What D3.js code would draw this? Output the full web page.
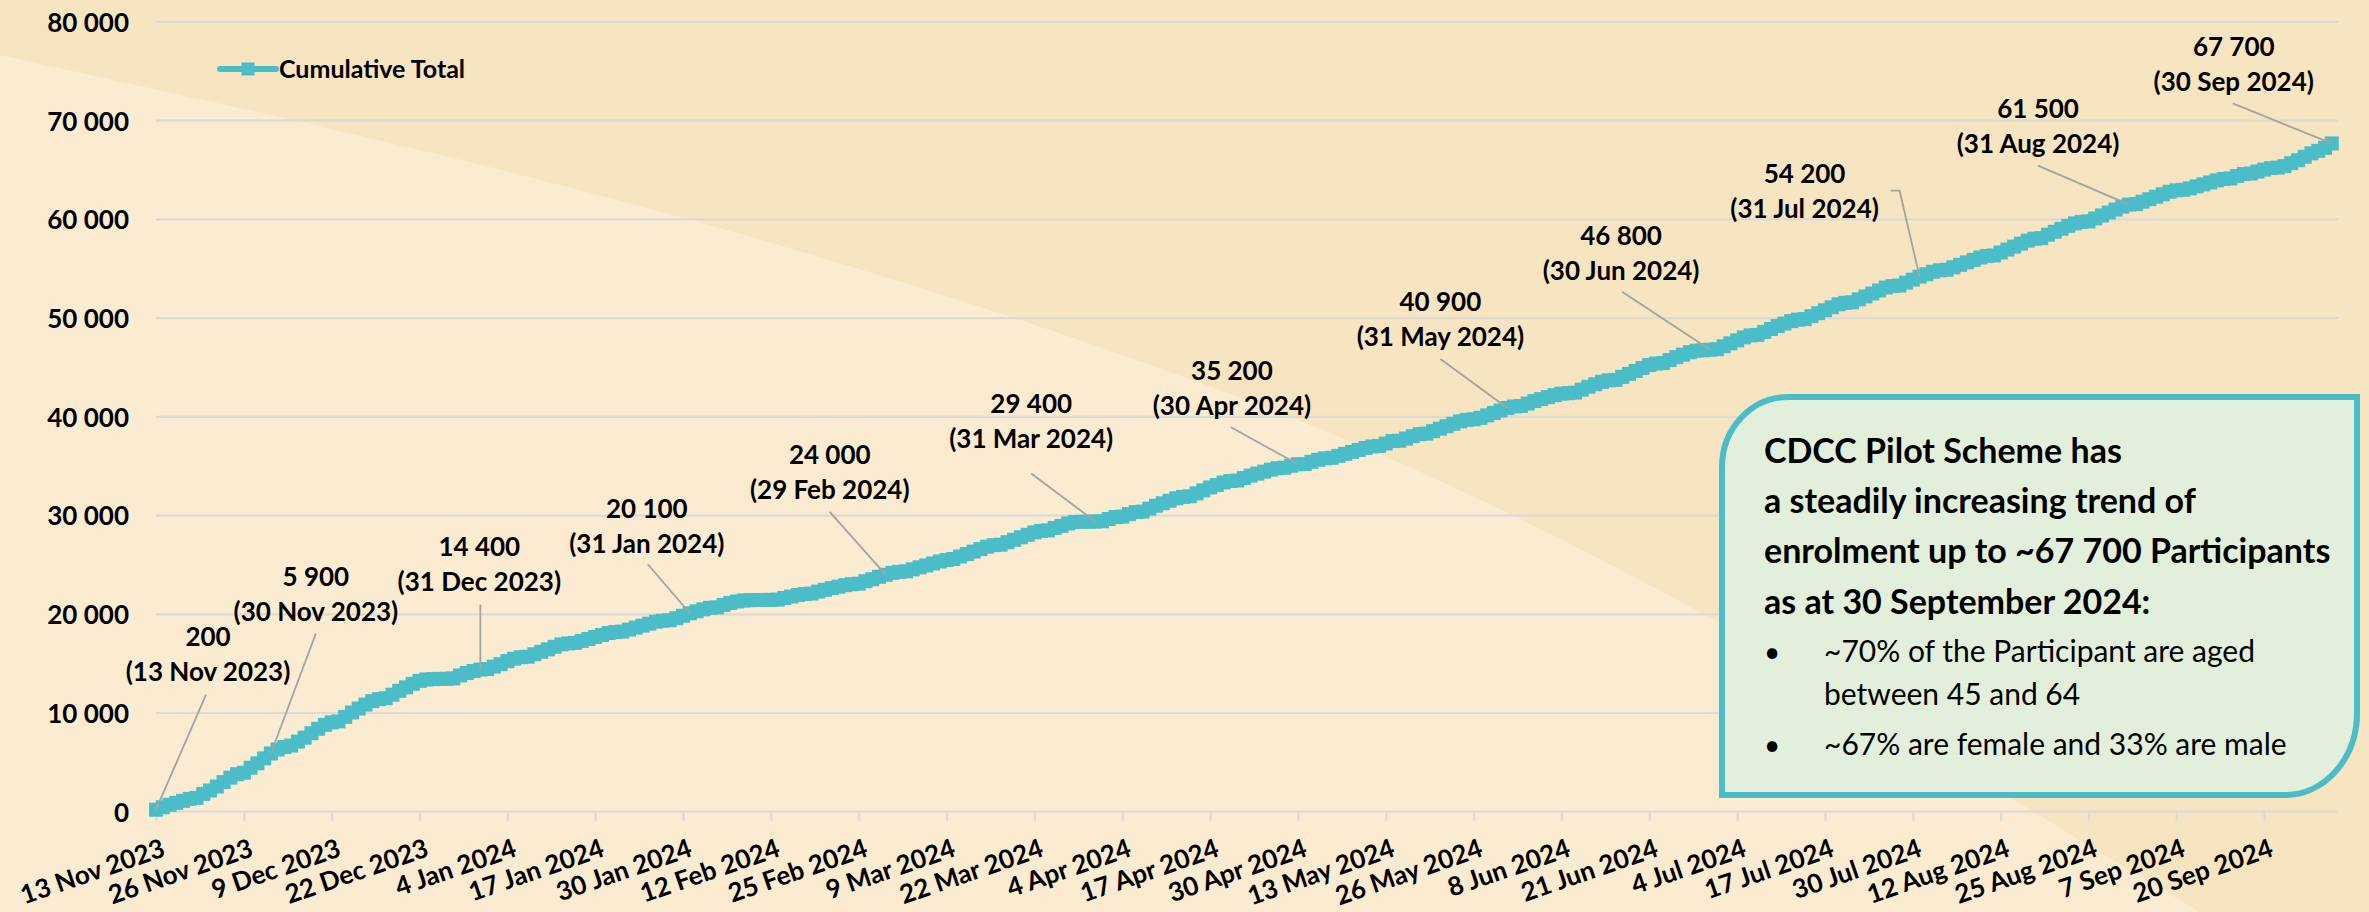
<!DOCTYPE html>
<html>
<head>
<meta charset="utf-8">
<script src="https://cdn.jsdelivr.net/npm/d3@7"></script>
<style>
    html, body { margin: 0; padding: 0; background: #f9ebd0; overflow: hidden; }
    svg { display: block; font-family: Lato, 'Open Sans', sans-serif; }
</style>
</head>
<body>
<div id="chart"></div>
<script>
////////////////////////////////////////////////////////
// chart data
////////////////////////////////////////////////////////
const startDate = '13 Nov 2023';

// cumulative enrolment, one value per day from 13 Nov 2023 to 30 Sep 2024
const cumulativeTotal = [
    200, 450, 700, 900, 1100, 1300, 1400, 1800, 2150, 2550,
    3000, 3450, 3800, 3950, 4450, 4900, 5400, 5900, 6300, 6550,
    6700, 7100, 7500, 7950, 8400, 8800, 9050, 9150, 9600, 10050,
    10450, 10850, 11200, 11400, 11500, 11850, 12250, 12600, 12950, 13250,
    13400, 13430, 13450, 13470, 13500, 13800, 14050, 14250, 14400, 14450,
    14700, 14950, 15250, 15500, 15650, 15700, 15950, 16200, 16450, 16700,
    16950, 17050, 17100, 17300, 17500, 17700, 17900, 18100, 18200, 18250,
    18450, 18650, 18850, 19050, 19250, 19350, 19400, 19600, 19850, 20100,
    20300, 20500, 20650, 20700, 20950, 21150, 21300, 21400, 21430, 21450,
    21450, 21460, 21480, 21650, 21800, 21950, 22050, 22100, 22300, 22480,
    22650, 22800, 22950, 23050, 23100, 23350, 23550, 23800, 24000, 24200,
    24300, 24350, 24550, 24750, 24950, 25150, 25350, 25500, 25600, 25850,
    26100, 26350, 26600, 26850, 27000, 27050, 27300, 27550, 27800, 28050,
    28300, 28450, 28500, 28750, 28950, 29200, 29350, 29370, 29380, 29400,
    29420, 29650, 29850, 29900, 30150, 30350, 30400, 30700, 31000, 31250,
    31500, 31750, 31900, 31950, 32250, 32550, 32850, 33100, 33350, 33500,
    33550, 33800, 34050, 34250, 34450, 34650, 34800, 34850, 35050, 35200,
    35220, 35450, 35650, 35800, 35850, 36050, 36250, 36450, 36650, 36850,
    37000, 37050, 37300, 37550, 37580, 37800, 38050, 38250, 38300, 38550,
    38800, 39050, 39300, 39550, 39700, 39750, 39900, 40150, 40400, 40650,
    40900, 41050, 41100, 41350, 41600, 41800, 42000, 42200, 42350, 42400,
    42450, 42750, 43050, 43300, 43550, 43700, 43750, 44050, 44350, 44650,
    44950, 45250, 45400, 45450, 45750, 46050, 46300, 46550, 46700, 46750,
    46800, 46850, 47150, 47450, 47750, 48050, 48250, 48300, 48600, 48900,
    49200, 49450, 49700, 49850, 49900, 50200, 50500, 50800, 51100, 51400,
    51550, 51600, 51900, 52200, 52500, 52800, 53100, 53250, 53300, 53600,
    53900, 54200, 54450, 54700, 54850, 54900, 55150, 55400, 55650, 55900,
    56150, 56300, 56350, 56650, 56950, 57250, 57550, 57850, 58050, 58100,
    58450, 58750, 59050, 59350, 59600, 59750, 59800, 60100, 60400, 60700,
    61000, 61300, 61500, 61550, 61800, 62050, 62300, 62550, 62800, 62950,
    63000, 63150, 63350, 63550, 63750, 63950, 64100, 64150, 64400, 64600,
    64650, 64850, 65050, 65200, 65250, 65400, 65700, 66000, 66350, 66700,
    66950, 67250, 67700
];

const xTickLabels = [
    '13 Nov 2023', '26 Nov 2023', '9 Dec 2023', '22 Dec 2023', '4 Jan 2024',
    '17 Jan 2024', '30 Jan 2024', '12 Feb 2024', '25 Feb 2024', '9 Mar 2024',
    '22 Mar 2024', '4 Apr 2024', '17 Apr 2024', '30 Apr 2024', '13 May 2024',
    '26 May 2024', '8 Jun 2024', '21 Jun 2024', '4 Jul 2024', '17 Jul 2024',
    '30 Jul 2024', '12 Aug 2024', '25 Aug 2024', '7 Sep 2024', '20 Sep 2024'
];
const yTickValues = [0, 10000, 20000, 30000, 40000, 50000, 60000, 70000, 80000];

const calloutDates = [
    '13 Nov 2023', '30 Nov 2023', '31 Dec 2023', '31 Jan 2024', '29 Feb 2024', '31 Mar 2024',
    '30 Apr 2024', '31 May 2024', '30 Jun 2024', '31 Jul 2024', '31 Aug 2024', '30 Sep 2024'
];
const calloutValues = [200, 5900, 14400, 20100, 24000, 29400, 35200, 40900, 46800, 54200, 61500, 67700];

const seriesName = 'Cumulative Total';

const noteHeading = [
    'CDCC Pilot Scheme has',
    'a steadily increasing trend of',
    'enrolment up to ~67 700 Participants',
    'as at 30 September 2024:'
];
const noteBullets = [
    ['~70% of the Participant are aged', 'between 45 and 64'],
    ['~67% are female and 33% are male']
];

// where each callout sits, relative to the point it marks (px)
const calloutOffsets = [
    {dx: 52, dy: -173, lx: 50, ly: -115},
    {dx: 45, dy: -177, lx: 45, ly: -120},
    {dx: -1, dy: -123, lx: 0, ly: -65},
    {dx: -43, dy: -105, lx: -42, ly: -49},
    {dx: -56, dy: -120, lx: -56, ly: -63},
    {dx: -64, dy: -118, lx: -64, ly: -48},
    {dx: -66, dy: -94, lx: -67, ly: -37},
    {dx: -67, dy: -106, lx: -67, ly: -49},
    {dx: -89, dy: -114, lx: -88, ly: -58},
    {dx: -115, dy: -103, lx: -20, ly: -86, elbow: -29},
    {dx: -91, dy: -96, lx: -91, ly: -39},
    {dx: -98, dy: -97, lx: -99, ly: -40}
];

////////////////////////////////////////////////////////
// drawing
////////////////////////////////////////////////////////
const width = 2369;
const height = 912;
const teal = '#4bbdc8';
const gridColor = '#dcdad6';

const parseDate = d3.timeParse('%d %b %Y');
const formatDate = d3.timeFormat('%-d %b %Y');
const fmt = d3.formatLocale({decimal: '.', thousands: ' ', grouping: [3], currency: ['', '']}).format(',');

const start = parseDate(startDate);
const data = cumulativeTotal.map((v, i) => ({date: d3.timeDay.offset(start, i), value: v}));

const x = d3.scaleTime()
            .domain([start, d3.timeDay.offset(start, 323)])
            .range([156, 2338.5]);
const y = d3.scaleLinear()
            .domain([0, 80000])
            .range([811.7, 22]);

const svg = d3.select('#chart')
    .append('svg')
        .attr('width', width)
        .attr('height', height);

// background: pale wedge over a warmer tan
svg.append('rect')
    .attr('width', width)
    .attr('height', height)
    .attr('fill', '#f7e4c1');

const edge = [[0, 55], [816, 256], [1050, 330], [1405, 465], [1707, 616], [2085, 843], [2200, 912]];
const edgeLine = d3.line().curve(d3.curveMonotoneX);
svg.append('path')
    .attr('d', edgeLine(edge) + 'L0,912Z')
    .attr('fill', '#faebd1');

// gridlines
svg.append('g')
    .selectAll('line')
    .data(yTickValues)
    .enter().append('line')
        .attr('x1', x.range()[0])
        .attr('x2', x.range()[1])
        .attr('y1', d => y(d))
        .attr('y2', d => y(d))
        .attr('stroke', gridColor)
        .attr('stroke-width', 2.2);

// y axis labels
const yAxis = svg.append('g')
    .attr('transform', 'translate(129,0)')
    .call(d3.axisLeft(y).tickValues(yTickValues).tickFormat(fmt).tickSize(0).tickPadding(0));
yAxis.select('.domain').remove();
yAxis.selectAll('text')
    .attr('dy', '0.36em')
    .style('font-size', '26px')
    .style('font-weight', 'bold')
    .style('font-family', 'Lato, sans-serif')
    .style('fill', '#000');

// x axis ticks + rotated labels
const tickDates = xTickLabels.map(parseDate);
const xAxis = svg.append('g')
    .attr('transform', 'translate(0,' + y(0) + ')')
    .call(d3.axisBottom(x).tickValues(tickDates).tickSize(9).tickFormat((d, i) => xTickLabels[i]));
xAxis.select('.domain').remove();
xAxis.selectAll('.tick line')
    .attr('stroke', gridColor)
    .attr('stroke-width', 2.2);
xAxis.selectAll('text')
    .attr('text-anchor', 'end')
    .attr('x', 0)
    .attr('y', 0)
    .attr('dy', '0.36em')
    .attr('transform', 'translate(7,35) rotate(-19)')
    .style('font-size', '26px')
    .style('font-weight', 'bold')
    .style('font-family', 'Lato, sans-serif')
    .style('fill', '#000');

// series: line with a square marker per day
const line = d3.line()
    .x(d => x(d.date))
    .y(d => y(d.value));

svg.append('path')
    .datum(data)
    .attr('d', line)
    .attr('fill', 'none')
    .attr('stroke', teal)
    .attr('stroke-width', 6);

const m = 14;
svg.append('g')
    .selectAll('rect')
    .data(data)
    .enter().append('rect')
        .attr('x', d => x(d.date) - m / 2)
        .attr('y', d => y(d.value) - m / 2)
        .attr('width', m)
        .attr('height', m)
        .attr('fill', teal);

// callouts
const callouts = calloutDates.map((d, i) => ({date: parseDate(d), value: calloutValues[i], off: calloutOffsets[i]}));

const leaders = svg.append('g')
    .attr('fill', 'none')
    .attr('stroke', '#a3a3a3')
    .attr('stroke-width', 1.8);

callouts.forEach(c => {
    const px = x(c.date), py = y(c.value);
    const pts = [[px + c.off.lx, py + c.off.ly], [px, py]];
    if (c.off.elbow !== undefined) pts.unshift([px + c.off.elbow, py + c.off.ly]);
    leaders.append('path').attr('d', d3.line()(pts));

    const g = svg.append('g')
        .attr('text-anchor', 'middle')
        .style('font-size', '26px')
        .style('font-weight', 'bold')
        .style('fill', '#000');
    g.append('text')
        .attr('x', px + c.off.dx)
        .attr('y', py + c.off.dy)
        .attr('dy', '0.36em')
        .text(fmt(c.value));
    g.append('text')
        .attr('x', px + c.off.dx)
        .attr('y', py + c.off.dy + 35)
        .attr('dy', '0.36em')
        .text('(' + formatDate(c.date) + ')');
});

// legend
const legend = svg.append('g').attr('transform', 'translate(220,69)');
legend.append('line')
    .attr('x1', 0).attr('x2', 56)
    .attr('stroke', teal)
    .attr('stroke-width', 6)
    .attr('stroke-linecap', 'round');
legend.append('rect')
    .attr('x', 21.5).attr('y', -6.5)
    .attr('width', 13).attr('height', 13)
    .attr('fill', teal);
legend.append('text')
    .attr('x', 59)
    .attr('dy', '0.36em')
    .style('font-size', '25px')
    .style('font-weight', 'bold')
    .text(seriesName);

// note box
const bx0 = 1722, by0 = 397, bx1 = 2357, by1 = 795;
const note = svg.append('g');
note.append('path')
    .attr('d', `M${bx0},${by0 + 70} A66,70 0 0 1 ${bx0 + 66},${by0} L${bx1},${by0} L${bx1},${by1 - 82}` +
               ` A72,82 0 0 1 ${bx1 - 72},${by1} L${bx0},${by1} Z`)
    .attr('fill', '#e2efda')
    .attr('stroke', teal)
    .attr('stroke-width', 6);

note.selectAll('.head')
    .data(noteHeading)
    .enter().append('text')
        .attr('class', 'head')
        .attr('x', 1764)
        .attr('y', (d, i) => 463 + i * 50.2)
        .style('font-size', '34px')
        .style('font-weight', 'bold')
        .text(d => d);

let by = 662;
noteBullets.forEach(lines => {
    note.append('text')
        .attr('x', 1764)
        .attr('y', by)
        .style('font-size', '28px')
        .text('\u2022');
    lines.forEach((t, j) => {
        note.append('text')
            .attr('x', 1824)
            .attr('y', by + j * 43)
            .style('font-size', '30px')
            .text(t);
    });
    by += (lines.length - 1) * 43 + 50;
});
</script>
</body>
</html>
